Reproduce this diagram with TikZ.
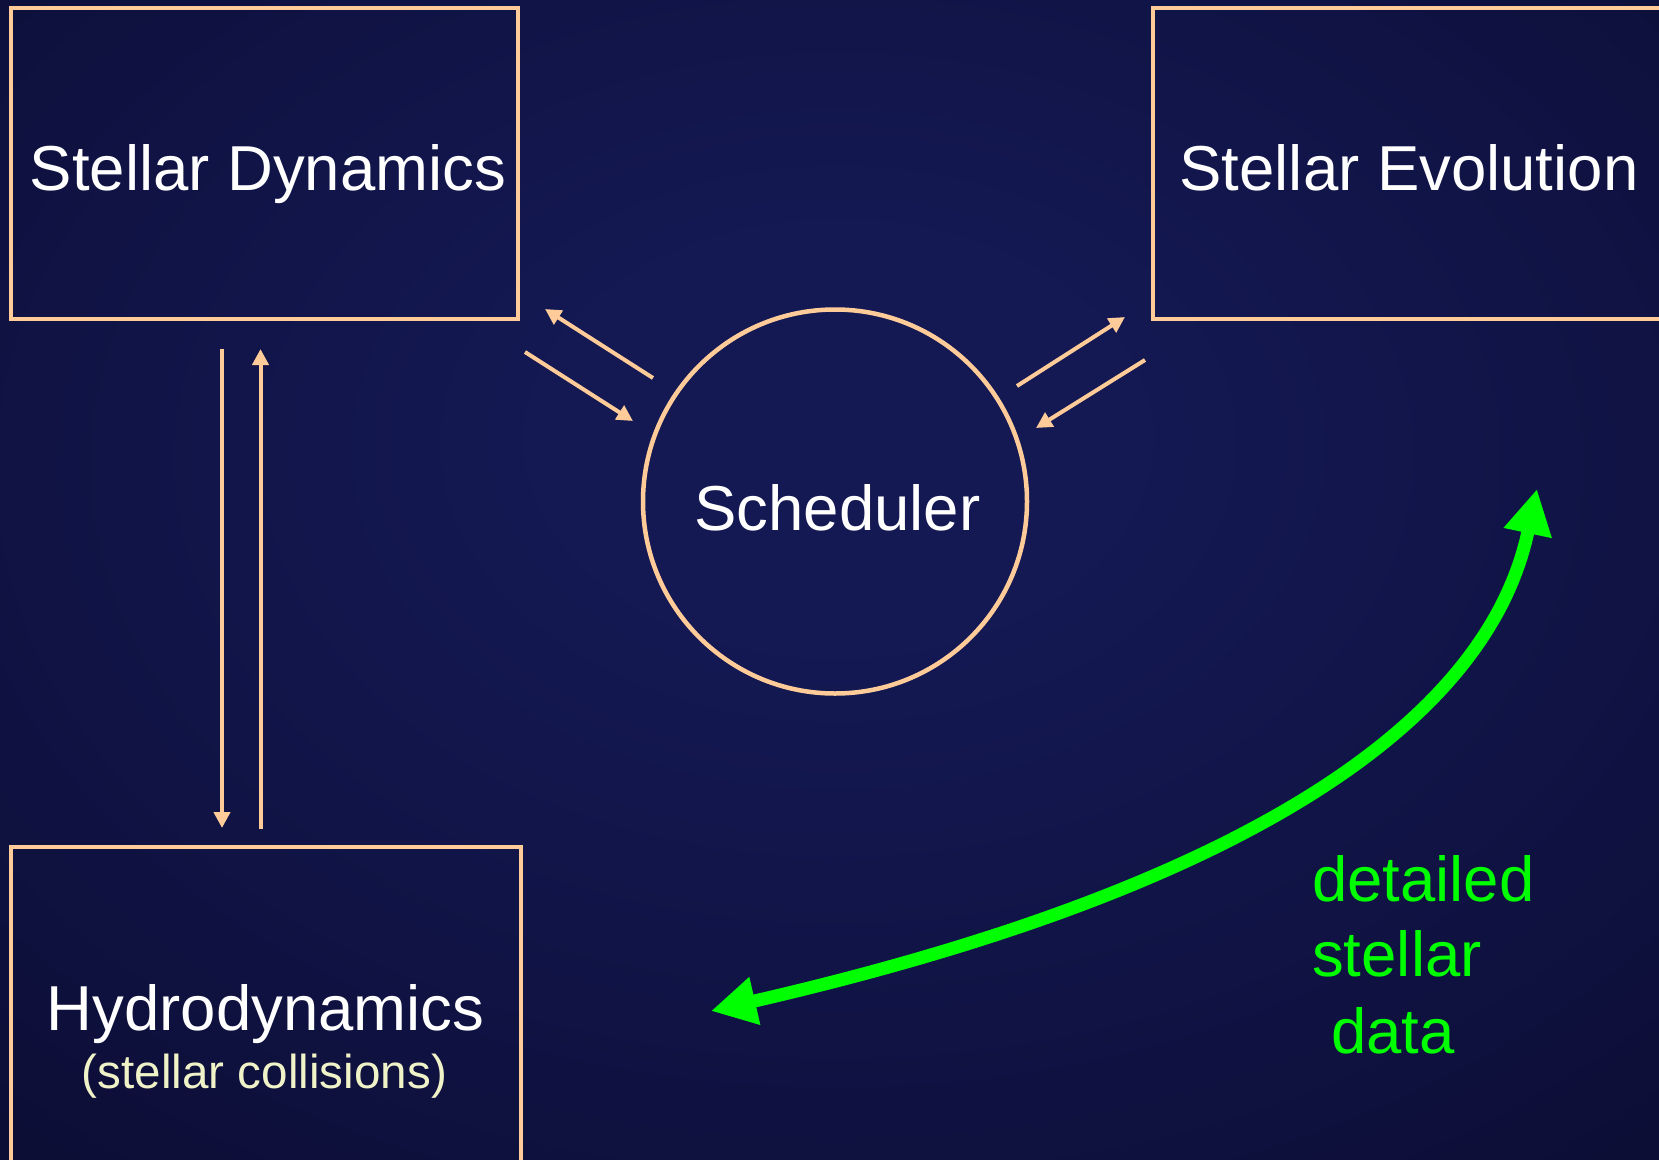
\documentclass[tikz,border=0pt]{standalone}
\usepackage{fontspec}
\setmainfont{Liberation Sans}
\usetikzlibrary{arrows.meta}
\definecolor{bgin}{RGB}{20,25,84}
\definecolor{bgmid}{RGB}{14,16,60}
\definecolor{bgout}{RGB}{8,8,36}
\definecolor{peach}{RGB}{255,204,153}
\definecolor{brightgreen}{RGB}{0,255,0}
\definecolor{paleyellow}{RGB}{240,242,200}
\pgfdeclareradialshading{bgshade}{\pgfpoint{0.3bp}{6.9bp}}{color(0bp)=(bgin); color(8bp)=(bgin); color(32bp)=(bgmid); color(52bp)=(bgout); color(80bp)=(bgout)}
\tikzset{
  boxst/.style={draw=peach, line width=4pt, inner sep=0pt, rectangle},
  schedst/.style={draw=peach, line width=4.5pt, circle, inner sep=0pt},
  lbl/.style={text=white, inner sep=0pt, font=\fontsize{63.5}{76}\selectfont},
  sublbl/.style={text=paleyellow, inner sep=0pt, font=\fontsize{47.6}{57}\selectfont},
  greenlbl/.style={text=brightgreen, inner sep=0pt, font=\fontsize{63.5}{76}\selectfont},
  flow/.style={draw=peach, line width=4pt, -{Triangle[length=16pt,width=16pt]}},
  bigflow/.style={draw=brightgreen, line width=13pt, {Triangle[length=45pt,width=46pt]}-{Triangle[length=45pt,width=46pt]}}
}
\begin{document}
\begin{tikzpicture}[x=1pt, y=-1pt]
\useasboundingbox (0,0) rectangle (1659,1159);
\clip (0,0) rectangle (1659,1159);
\shade[shading=bgshade] (0,0) rectangle (1659,1159);

% boxes
\node[boxst, minimum width=507.5pt, minimum height=311pt] (sdbox) at (264.25,163) {};
\node[boxst, minimum width=522.5pt, minimum height=311pt] (sebox) at (1413.75,163) {};
\node[boxst, minimum width=510pt, minimum height=328.5pt] (hdbox) at (265.5,1010.75) {};
\node[schedst, minimum size=384pt] (sched) at (835,501.5) {};

% labels
\node[lbl, anchor=base] (sdtext) at (268,190.5) {Stellar Dynamics};
\node[lbl, anchor=base] (setext) at (1409,190.5) {Stellar Evolution};
\node[lbl, anchor=base] (schedtext) at (837.5,530.7) {Scheduler};
\node[lbl, anchor=base] (hdtext) at (265.5,1030) {Hydrodynamics};
\node[sublbl, anchor=base] (hdsub) at (264.5,1088) {(stellar collisions)};
\node[greenlbl, anchor=base west] (g1) at (1312,901) {detailed};
\node[greenlbl, anchor=base west] (g2) at (1312,976.7) {stellar};
\node[greenlbl, anchor=base west] (g3) at (1331,1053) {data};

% connector end points
\coordinate (v1a) at (222,349);
\coordinate (v1b) at (222,828);
\coordinate (v2a) at (260.5,829);
\coordinate (v2b) at (260.5,349);
\coordinate (d1a) at (653,378);
\coordinate (d1b) at (545,309);
\coordinate (d2a) at (525,352);
\coordinate (d2b) at (633,421);
\coordinate (d3a) at (1017,386);
\coordinate (d3b) at (1125,317);
\coordinate (d4a) at (1145,360);
\coordinate (d4b) at (1036,428);
\coordinate (gA) at (711,1011);
\coordinate (gB) at (1537,489);

% connectors
\draw[flow] (v1a) -- (v1b);
\draw[flow] (v2a) -- (v2b);
\draw[flow] (d1a) -- (d1b);
\draw[flow] (d2a) -- (d2b);
\draw[flow] (d3a) -- (d3b);
\draw[flow] (d4a) -- (d4b);
\draw[bigflow] (gA) .. controls (1159,908) and (1480,758) .. (gB);
\end{tikzpicture}
\end{document}
